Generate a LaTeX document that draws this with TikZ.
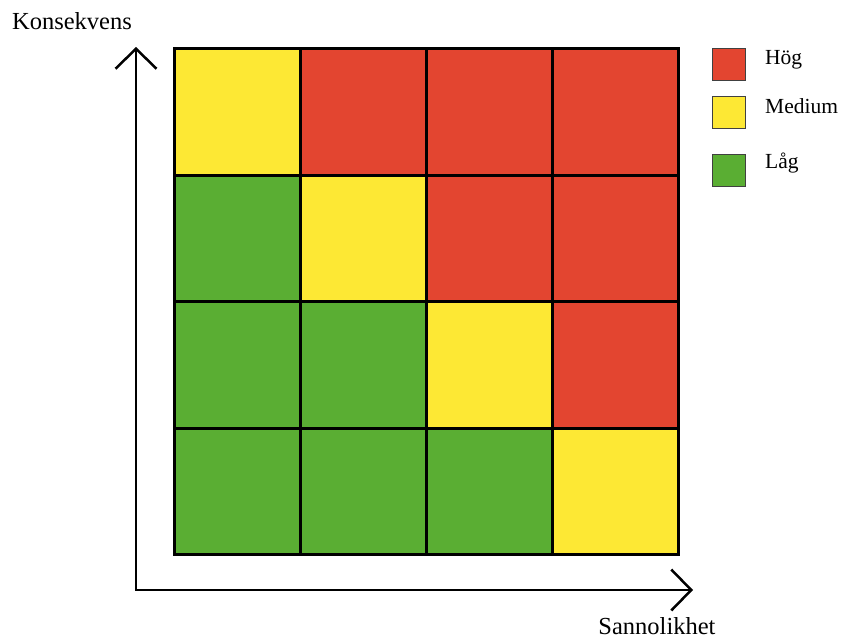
\documentclass[tikz,border=0pt]{standalone}
\usepackage{fontspec}
\setmainfont{Liberation Serif}
\usetikzlibrary{arrows.meta}
\definecolor{hog}{HTML}{E34530}
\definecolor{med}{HTML}{FDE834}
\definecolor{lag}{HTML}{5AAE33}
\begin{document}
\begin{tikzpicture}[x=1pt,y=-1pt,
  cell/.style={draw=black,line width=3.3pt,minimum width=126pt,minimum height=126.5pt,inner sep=0pt,anchor=north west},
  legbox/.style={draw=black!75,line width=0.8pt,minimum width=33pt,minimum height=32pt,inner sep=0pt,anchor=north west},
  legtext/.style={anchor=west,font=\fontsize{21.5}{23}\selectfont,inner sep=0pt},
  axis/.style={line width=2.5pt,-{Straight Barb[length=20pt,width=41pt,line width=2.5pt]}},
  axlabel/.style={font=\fontsize{24.5}{26}\selectfont,inner sep=0pt}]
\useasboundingbox (0,0) rectangle (845,640);
% grid
\foreach \r/\cols in {0/{med,hog,hog,hog},1/{lag,med,hog,hog},2/{lag,lag,med,hog},3/{lag,lag,lag,med}}{
  \foreach \c [count=\i from 0] in \cols {
    \node[cell,fill=\c] (c\r\i) at ({173+126*\i},{47+126.5*\r}) {};
  }
}
% axes
\coordinate (o) at (136,590);
\coordinate (ytop) at (136,47);
\coordinate (xend) at (693,590);
\draw[axis,line cap=rect] (o) -- (ytop);
\draw[axis,line cap=rect] (o) -- (xend);
\node[axlabel] (ylab) at (72,21) {Konsekvens};
\node[axlabel] (xlab) at (657,626) {Sannolikhet};
% legend
\node[legbox,fill=hog] (lh) at (712,48) {};
\node[legbox,fill=med] (lm) at (712,96) {};
\node[legbox,fill=lag] (ll) at (712,154) {};
\node[legtext] (th) at (765,60) {Hög};
\node[legtext] (tm) at (765,106) {Medium};
\node[legtext] (tl) at (765,163) {Låg};
\end{tikzpicture}
\end{document}
